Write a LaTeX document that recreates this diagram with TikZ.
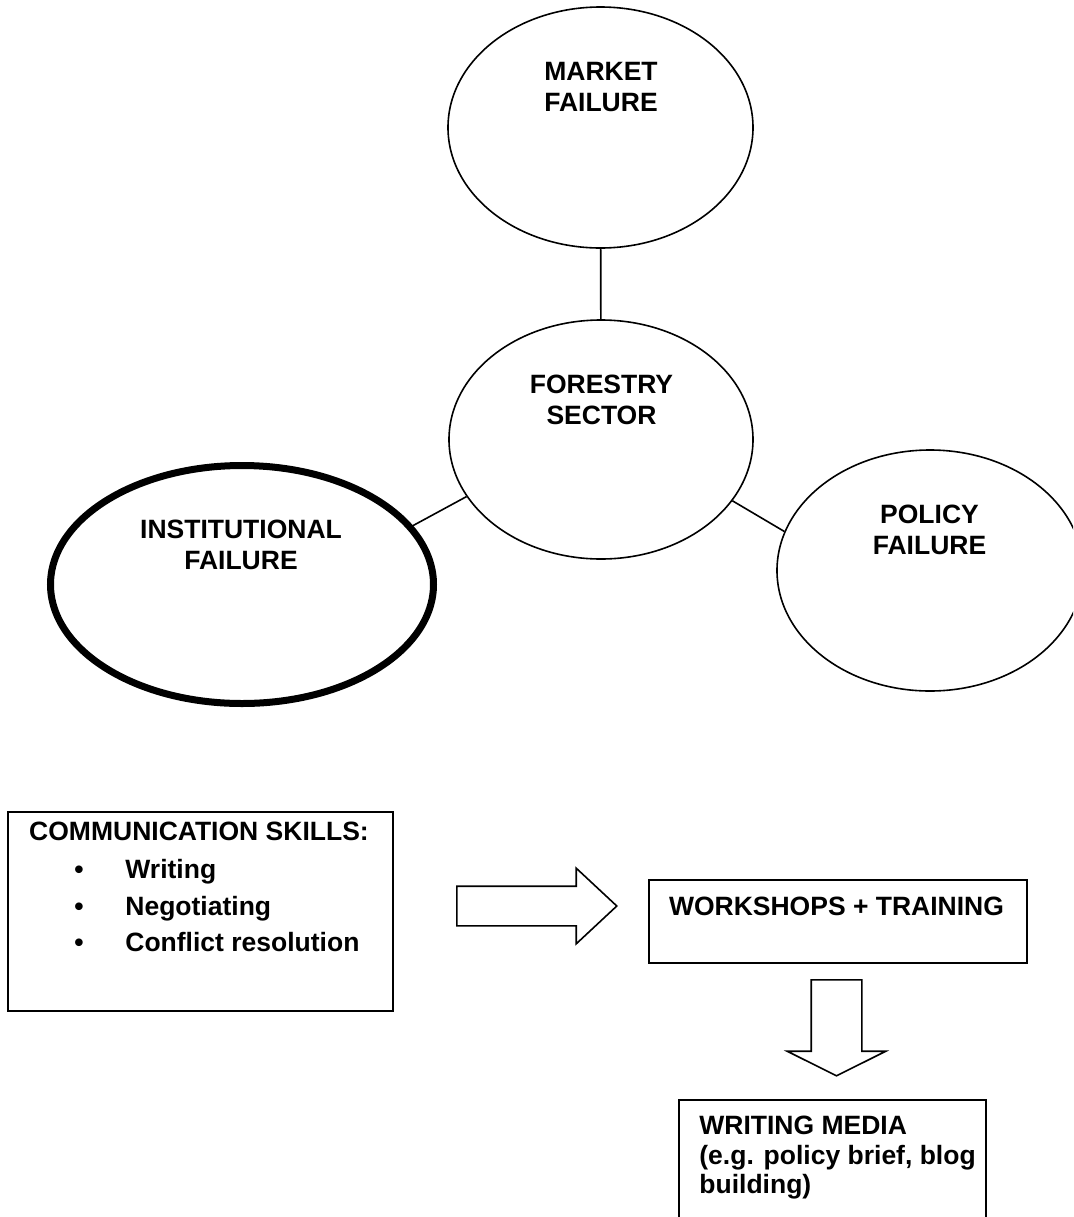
\documentclass[tikz,border=0pt]{standalone}
\usepackage{fontspec}
\setmainfont{Liberation Sans}
\usetikzlibrary{shapes.geometric,shapes.arrows}

\tikzset{
    bubble/.style={draw, ellipse, line width=0.8pt, inner sep=0pt},
    lbl/.style={font=\bfseries\fontsize{13.25}{15.5}\selectfont, align=center, inner sep=0pt, anchor=north},
    boxnode/.style={draw, rectangle, line width=0.8pt, inner sep=0pt, anchor=north west},
    blockarrow/.style={draw, single arrow, line width=0.8pt, inner xsep=0pt}
}

\begin{document}
\begin{tikzpicture}[x=0.5pt, y=-0.5pt]
        \useasboundingbox (0,0) rectangle (1073,1217);
        \clip (0,0) rectangle (1073,1217);
        %% the failures round the sector
        \node[bubble, minimum width=152.5pt, minimum height=120.5pt] (mkt) at (600.5,127.5) {};
        \node[bubble, minimum width=152pt, minimum height=119.5pt] (fst) at (601,439.5) {};
        \node[bubble, line width=3.5pt, minimum width=191.5pt, minimum height=119pt] (inst) at (242,584.5) {};
        \node[bubble, minimum width=153pt, minimum height=120.5pt] (pol) at (930,570.5) {};
        \node[lbl] (mktlbl) at (601,62) {MARKET\\FAILURE};
        \node[lbl] (fstlbl) at (601.5,375) {FORESTRY\\SECTOR};
        \node[lbl] (instlbl) at (241,520) {INSTITUTIONAL\\FAILURE};
        \node[lbl] (pollbl) at (929.5,505) {POLICY\\FAILURE};
        \draw[line width=0.8pt] (mkt) -- (fst);
        \draw[line width=0.8pt] (fst.203) -- (inst.19);
        \draw[line width=0.8pt] (fst.335) -- (pol.165);
        %% skills and what follows from them
        \node[boxnode, minimum width=192.5pt, minimum height=99.5pt] (comm) at (7,811) {};
        \node[lbl] (commlbl) at (199,822) {COMMUNICATION SKILLS:};
        \node[lbl, align=left, anchor=north west, font=\bfseries\fontsize{13.25}{18.25}\selectfont] (skills) at (74,859)
            {\makebox[25.5pt][l]{•}Writing\\\makebox[25.5pt][l]{•}Negotiating\\\makebox[25.5pt][l]{•}Conflict resolution};
        \node[boxnode, minimum width=189pt, minimum height=41.5pt] (wks) at (648,879) {};
        \node[lbl] (wkslbl) at (836.5,897) {WORKSHOPS + TRAINING};
        \node[boxnode, minimum width=153.5pt, minimum height=80pt] (media) at (678,1099) {};
        \node[lbl, align=left, anchor=north west, font=\bfseries\fontsize{13.25}{14.75}\selectfont] (medialbl) at (699,1116)
            {WRITING MEDIA\\(e.g. policy brief, blog\\building)};
        \node[blockarrow, anchor=tail, inner ysep=9.5pt, minimum height=80pt,
            single arrow head extend=9pt, single arrow tip angle=86] (toright) at (456,906) {};
        \node[blockarrow, anchor=tail, rotate=-90, inner ysep=12.25pt, minimum height=48pt,
            single arrow head extend=12pt, single arrow tip angle=127] (todown) at (836.5,979) {};
\end{tikzpicture}
\end{document}
